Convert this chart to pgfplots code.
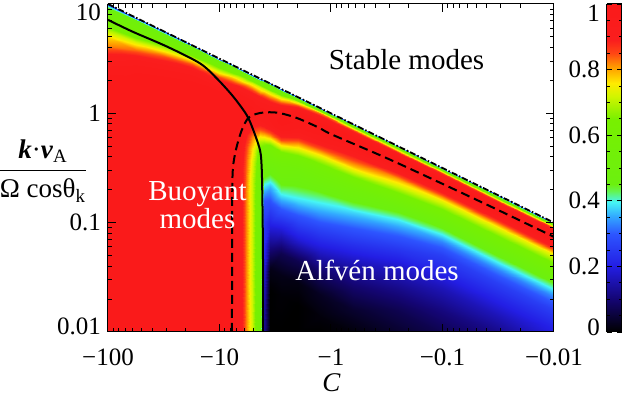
\documentclass[border=0pt]{standalone}
\usepackage{fontspec}
\setmainfont{Liberation Serif}
\usepackage{amsmath}
\usepackage{pgfplots}
\pgfplotsset{compat=1.18}

\pgfplotsset{
  colormap={ref}{
    rgb255(0cm)=(0,0,0);
    rgb255(1cm)=(20,5,115);
    rgb255(2cm)=(35,30,228);
    rgb255(3cm)=(45,85,255);
    rgb255(3.55cm)=(50,170,255);
    rgb255(3.95cm)=(70,245,245);
    rgb255(4.3cm)=(100,245,80);
    rgb255(4.5cm)=(108,240,15);
    rgb255(6.5cm)=(120,240,0);
    rgb255(7.2cm)=(210,245,0);
    rgb255(7.6cm)=(255,235,0);
    rgb255(8.1cm)=(255,150,0);
    rgb255(8.5cm)=(255,70,20);
    rgb255(8.9cm)=(250,30,30);
    rgb255(10cm)=(250,26,26)
  }
}

\begin{document}
\begin{tikzpicture}
\begin{axis}[
  at={(0,0)}, anchor=south west,
  view={0}{90},
  scale only axis, width=223pt, height=164pt,
  xmin=-2, xmax=2, ymin=-2, ymax=1,
  enlargelimits=false,
  axis on top,
  colormap name=ref,
  point meta min=0, point meta max=1,
  xtick={-2,-1,0,1,2},
  xticklabels={−100,−10,−1,−0.1,−0.01},
  ytick={-2,-1,0,1},
  yticklabels={\raisebox{3pt}[\height][\depth]{0.01},0.1,1,\raisebox{-4pt}[\height][\depth]{10}},
  minor xtick={-1.954,-1.903,-1.845,-1.778,-1.699,-1.602,-1.477,-1.301,
    -0.954,-0.903,-0.845,-0.778,-0.699,-0.602,-0.477,-0.301,
    0.046,0.097,0.155,0.222,0.301,0.398,0.523,0.699,
    1.046,1.097,1.155,1.222,1.301,1.398,1.523,1.699},
  minor ytick={-1.699,-1.523,-1.398,-1.301,-1.222,-1.155,-1.097,-1.046,
    -0.699,-0.523,-0.398,-0.301,-0.222,-0.155,-0.097,-0.046,
    0.301,0.477,0.602,0.699,0.778,0.845,0.903,0.954},
  major tick length=4pt, minor tick length=2pt,
  tick style={black, line width=0.5pt},
  axis line style={line width=0.5pt},
  tick label style={font=\fontsize{12.5}{15}\selectfont},
  xticklabel style={yshift=-5pt},
]
% one scanline per depth below the stability line, 21 columns in C each
\addplot3[surf, shader=interp, z buffer=none, mesh/rows=22, mesh/cols=21,
  point meta=explicit] table[x=X, y=v, z=c, meta=c] {
X v c
-2 1 0.25
-1.75 0.875 0.28
-1.5 0.75 0.28
-1.25 0.625 0.3
-1 0.5 0.3
-0.9 0.45 0.3
-0.82 0.41 0.3
-0.76 0.38 0.3
-0.71 0.355 0.3
-0.67 0.335 0.3
-0.635 0.318 0.3
-0.605 0.302 0.3
-0.55 0.275 0.3
-0.45 0.225 0.3
-0.3 0.15 0.3
-0.1 0.05 0.3
0.2 -0.1 0.3
0.6 -0.3 0.3
1 -0.5 0.3
1.5 -0.75 0.3
2 -1 0.3

-2 0.98 0.38
-1.75 0.855 0.45
-1.5 0.73 0.48
-1.25 0.605 0.5
-1 0.48 0.52
-0.9 0.43 0.52
-0.82 0.39 0.52
-0.76 0.36 0.52
-0.71 0.335 0.5
-0.67 0.315 0.5
-0.635 0.298 0.49
-0.605 0.282 0.49
-0.55 0.255 0.48
-0.45 0.205 0.5
-0.3 0.13 0.52
-0.1 0.03 0.58
0.2 -0.12 0.6
0.6 -0.32 0.61
1 -0.52 0.62
1.5 -0.77 0.62
2 -1.02 0.62

-2 0.95 0.5
-1.75 0.825 0.52
-1.5 0.7 0.54
-1.25 0.575 0.56
-1 0.45 0.58
-0.9 0.4 0.6
-0.82 0.36 0.62
-0.76 0.33 0.63
-0.71 0.305 0.62
-0.67 0.285 0.62
-0.635 0.268 0.62
-0.605 0.252 0.62
-0.55 0.225 0.62
-0.45 0.175 0.62
-0.3 0.1 0.72
-0.1 0 0.82
0.2 -0.15 0.85
0.6 -0.35 0.86
1 -0.55 0.86
1.5 -0.8 0.86
2 -1.05 0.86

-2 0.92 0.53
-1.75 0.795 0.55
-1.5 0.67 0.57
-1.25 0.545 0.6
-1 0.42 0.64
-0.9 0.37 0.67
-0.82 0.33 0.7
-0.76 0.3 0.72
-0.71 0.275 0.72
-0.67 0.255 0.72
-0.635 0.238 0.72
-0.605 0.222 0.72
-0.55 0.195 0.72
-0.45 0.145 0.72
-0.3 0.07 0.86
-0.1 -0.03 0.93
0.2 -0.18 0.95
0.6 -0.38 0.95
1 -0.58 0.95
1.5 -0.83 0.95
2 -1.08 0.95

-2 0.88 0.56
-1.75 0.755 0.58
-1.5 0.63 0.62
-1.25 0.505 0.72
-1 0.38 0.74
-0.9 0.33 0.78
-0.82 0.29 0.8
-0.76 0.26 0.82
-0.71 0.235 0.82
-0.67 0.215 0.81
-0.635 0.198 0.8
-0.605 0.182 0.8
-0.55 0.155 0.8
-0.45 0.105 0.83
-0.3 0.03 0.95
-0.1 -0.07 0.98
0.2 -0.22 1
0.6 -0.42 1
1 -0.62 1
1.5 -0.87 1
2 -1.12 1

-2 0.83 0.6
-1.75 0.705 0.62
-1.5 0.58 0.74
-1.25 0.455 0.84
-1 0.33 0.85
-0.9 0.28 0.88
-0.82 0.24 0.9
-0.76 0.21 0.9
-0.71 0.185 0.9
-0.67 0.165 0.9
-0.635 0.148 0.9
-0.605 0.132 0.9
-0.55 0.105 0.9
-0.45 0.055 0.93
-0.3 -0.02 1
-0.1 -0.12 1
0.2 -0.27 0.99
0.6 -0.47 0.99
1 -0.67 0.98
1.5 -0.92 0.98
2 -1.17 0.98

-2 0.77 0.68
-1.75 0.645 0.74
-1.5 0.52 0.84
-1.25 0.395 0.93
-1 0.27 0.94
-0.9 0.22 0.96
-0.82 0.18 0.96
-0.76 0.15 0.96
-0.71 0.125 0.96
-0.67 0.105 0.95
-0.635 0.088 0.95
-0.605 0.072 0.95
-0.55 0.045 0.95
-0.45 -0.005 0.98
-0.3 -0.08 0.98
-0.1 -0.18 0.97
0.2 -0.33 0.95
0.6 -0.53 0.92
1 -0.73 0.88
1.5 -0.98 0.88
2 -1.23 0.88

-2 0.7 0.77
-1.75 0.575 0.83
-1.5 0.45 0.93
-1.25 0.325 0.98
-1 0.2 0.99
-0.9 0.15 1
-0.82 0.11 1
-0.76 0.08 0.99
-0.71 0.055 0.99
-0.67 0.035 0.98
-0.635 0.018 0.97
-0.605 0.002 0.97
-0.55 -0.025 0.97
-0.45 -0.075 1
-0.3 -0.15 0.95
-0.1 -0.25 0.93
0.2 -0.4 0.88
0.6 -0.6 0.8
1 -0.8 0.74
1.5 -1.05 0.74
2 -1.3 0.74

-2 0.62 0.82
-1.75 0.495 0.93
-1.5 0.37 0.98
-1.25 0.245 1
-1 0.12 1
-0.9 0.07 1
-0.82 0.03 1
-0.76 0 1
-0.71 -0.025 0.97
-0.67 -0.045 0.95
-0.635 -0.062 0.94
-0.605 -0.078 0.94
-0.55 -0.105 0.95
-0.45 -0.155 0.97
-0.3 -0.23 0.88
-0.1 -0.33 0.84
0.2 -0.48 0.79
0.6 -0.68 0.7
1 -0.88 0.64
1.5 -1.13 0.64
2 -1.38 0.64

-2 0.53 0.9
-1.75 0.405 0.98
-1.5 0.28 1
-1.25 0.155 1
-1 0.03 1
-0.9 -0.02 1
-0.82 -0.06 0.99
-0.76 -0.09 0.95
-0.71 -0.115 0.9
-0.67 -0.135 0.87
-0.635 -0.152 0.84
-0.605 -0.168 0.83
-0.55 -0.195 0.82
-0.45 -0.245 0.85
-0.3 -0.32 0.75
-0.1 -0.42 0.7
0.2 -0.57 0.66
0.6 -0.77 0.59
1 -0.97 0.54
1.5 -1.22 0.54
2 -1.47 0.54

-2 0.43 0.96
-1.75 0.305 1
-1.5 0.18 1
-1.25 0.055 1
-1 -0.07 1
-0.9 -0.12 1
-0.82 -0.16 0.98
-0.76 -0.19 0.9
-0.71 -0.215 0.82
-0.67 -0.235 0.77
-0.635 -0.252 0.7
-0.605 -0.268 0.67
-0.55 -0.295 0.63
-0.45 -0.345 0.66
-0.3 -0.42 0.6
-0.1 -0.52 0.58
0.2 -0.67 0.55
0.6 -0.87 0.48
1 -1.07 0.43
1.5 -1.32 0.43
2 -1.57 0.43

-2 0.32 1
-1.75 0.195 1
-1.5 0.07 1
-1.25 -0.055 1
-1 -0.18 1
-0.9 -0.23 1
-0.82 -0.27 0.96
-0.76 -0.3 0.86
-0.71 -0.325 0.77
-0.67 -0.345 0.69
-0.635 -0.362 0.6
-0.605 -0.378 0.58
-0.55 -0.405 0.56
-0.45 -0.455 0.55
-0.3 -0.53 0.52
-0.1 -0.63 0.51
0.2 -0.78 0.47
0.6 -0.98 0.39
1 -1.18 0.33
1.5 -1.43 0.33
2 -1.68 0.33

-2 0.2 1
-1.75 0.075 1
-1.5 -0.05 1
-1.25 -0.175 1
-1 -0.3 1
-0.9 -0.35 1
-0.82 -0.39 0.94
-0.76 -0.42 0.84
-0.71 -0.445 0.74
-0.67 -0.465 0.66
-0.635 -0.482 0.57
-0.605 -0.498 0.52
-0.55 -0.525 0.47
-0.45 -0.575 0.5
-0.3 -0.65 0.46
-0.1 -0.75 0.43
0.2 -0.9 0.38
0.6 -1.1 0.31
1 -1.3 0.26
1.5 -1.55 0.26
2 -1.8 0.26

-2 0.05 1
-1.75 -0.075 1
-1.5 -0.2 1
-1.25 -0.325 1
-1 -0.45 1
-0.9 -0.5 0.99
-0.82 -0.54 0.93
-0.76 -0.57 0.83
-0.71 -0.595 0.72
-0.67 -0.615 0.64
-0.635 -0.632 0.56
-0.605 -0.648 0.4
-0.55 -0.675 0.36
-0.45 -0.725 0.4
-0.3 -0.8 0.38
-0.1 -0.9 0.35
0.2 -1.05 0.3
0.6 -1.25 0.24
1 -1.45 0.21
1.5 -1.7 0.21
2 -1.95 0.21

-2 -0.1 1
-1.75 -0.225 1
-1.5 -0.35 1
-1.25 -0.475 1
-1 -0.6 1
-0.9 -0.65 0.99
-0.82 -0.69 0.93
-0.76 -0.72 0.82
-0.71 -0.745 0.72
-0.67 -0.765 0.63
-0.635 -0.782 0.56
-0.605 -0.798 0.3
-0.55 -0.825 0.28
-0.45 -0.875 0.3
-0.3 -0.95 0.29
-0.1 -1.05 0.27
0.2 -1.2 0.23
0.6 -1.4 0.18
1 -1.6 0.16
1.5 -1.85 0.16
2 -2 0.2

-2 -0.3 1
-1.75 -0.425 1
-1.5 -0.55 1
-1.25 -0.675 1
-1 -0.8 1
-0.9 -0.85 0.99
-0.82 -0.89 0.93
-0.76 -0.92 0.82
-0.71 -0.945 0.72
-0.67 -0.965 0.63
-0.635 -0.982 0.56
-0.605 -0.998 0.25
-0.55 -1.025 0.2
-0.45 -1.075 0.18
-0.3 -1.15 0.19
-0.1 -1.25 0.18
0.2 -1.4 0.15
0.6 -1.6 0.12
1 -1.8 0.11
1.5 -2 0.12
2 -2 0.2

-2 -0.5 1
-1.75 -0.625 1
-1.5 -0.75 1
-1.25 -0.875 1
-1 -1 1
-0.9 -1.05 0.99
-0.82 -1.09 0.93
-0.76 -1.12 0.82
-0.71 -1.145 0.72
-0.67 -1.165 0.63
-0.635 -1.182 0.56
-0.605 -1.198 0.23
-0.55 -1.225 0.11
-0.45 -1.275 0.07
-0.3 -1.35 0.07
-0.1 -1.45 0.09
0.2 -1.6 0.09
0.6 -1.8 0.07
1 -2 0.07
1.5 -2 0.12
2 -2 0.2

-2 -0.7 1
-1.75 -0.825 1
-1.5 -0.95 1
-1.25 -1.075 1
-1 -1.2 1
-0.9 -1.25 0.99
-0.82 -1.29 0.93
-0.76 -1.32 0.82
-0.71 -1.345 0.72
-0.67 -1.365 0.63
-0.635 -1.382 0.56
-0.605 -1.398 0.2
-0.55 -1.425 0.02
-0.45 -1.475 0.02
-0.3 -1.55 0.015
-0.1 -1.65 0.03
0.2 -1.8 0.04
0.6 -2 0.04
1 -2 0.07
1.5 -2 0.12
2 -2 0.2

-2 -0.9 1
-1.75 -1.025 1
-1.5 -1.15 1
-1.25 -1.275 1
-1 -1.4 1
-0.9 -1.45 0.99
-0.82 -1.49 0.93
-0.76 -1.52 0.82
-0.71 -1.545 0.72
-0.67 -1.565 0.63
-0.635 -1.582 0.56
-0.605 -1.598 0.17
-0.55 -1.625 0
-0.45 -1.675 0.005
-0.3 -1.75 0
-0.1 -1.85 0.01
0.2 -2 0.01
0.6 -2 0.04
1 -2 0.07
1.5 -2 0.12
2 -2 0.2

-2 -1.2 1
-1.75 -1.325 1
-1.5 -1.45 1
-1.25 -1.575 1
-1 -1.7 1
-0.9 -1.75 0.99
-0.82 -1.79 0.93
-0.76 -1.82 0.82
-0.71 -1.845 0.72
-0.67 -1.865 0.63
-0.635 -1.882 0.56
-0.605 -1.898 0.14
-0.55 -1.925 0
-0.45 -1.975 0
-0.3 -2 0
-0.1 -2 0
0.2 -2 0.01
0.6 -2 0.04
1 -2 0.07
1.5 -2 0.12
2 -2 0.2

-2 -1.5 1
-1.75 -1.625 1
-1.5 -1.75 1
-1.25 -1.875 1
-1 -2 1
-0.9 -2 0.99
-0.82 -2 0.93
-0.76 -2 0.82
-0.71 -2 0.72
-0.67 -2 0.63
-0.635 -2 0.56
-0.605 -2 0.13
-0.55 -2 0
-0.45 -2 0
-0.3 -2 0
-0.1 -2 0
0.2 -2 0.01
0.6 -2 0.04
1 -2 0.07
1.5 -2 0.12
2 -2 0.2

-2 -2 1
-1.75 -2 1
-1.5 -2 1
-1.25 -2 1
-1 -2 1
-0.9 -2 0.99
-0.82 -2 0.93
-0.76 -2 0.82
-0.71 -2 0.72
-0.67 -2 0.63
-0.635 -2 0.56
-0.605 -2 0.13
-0.55 -2 0
-0.45 -2 0
-0.3 -2 0
-0.1 -2 0
0.2 -2 0.01
0.6 -2 0.04
1 -2 0.07
1.5 -2 0.12
2 -2 0.2
};
% stability boundary
\addplot3[black, line width=0.9pt, dash pattern=on 3pt off 1pt on 0.8pt off 1pt]
  coordinates {(-2,1,1) (2,-1,1)};
% buoyant / Alfven separatrix
\addplot3[black, line width=1pt, smooth] coordinates {
  (-2,0.855,1) (-1.78,0.747,1) (-1.47,0.61,1) (-1.175,0.457,1) (-1.025,0.32,1)
  (-0.876,0.152,1) (-0.756,-0.016,1) (-0.697,-0.153,1) (-0.637,-0.336,1)
  (-0.622,-0.488,1) (-0.615,-0.8,1) (-0.61,-1.3,1) (-0.608,-2,1)};
% dashed contour
\addplot3[black, line width=1pt, dash pattern=on 4.5pt off 2.5pt, smooth] coordinates {
  (-0.888,-2,1) (-0.887,-1.0,1) (-0.884,-0.6,1) (-0.874,-0.45,1) (-0.846,-0.306,1)
  (-0.8,-0.153,1) (-0.74,-0.04,1) (-0.65,0.0,1) (-0.55,0.01,1) (-0.45,0.0,1)
  (-0.3,-0.045,1) (-0.1,-0.135,1) (0,-0.19,1) (0.5,-0.41,1) (1,-0.645,1)
  (1.5,-0.885,1) (2,-1.13,1)};
\node[anchor=base, font=\fontsize{14.5}{14}\selectfont] at (axis cs:0.677,0.4026,1) {Stable modes};
\node[anchor=base, text=white, font=\fontsize{14.5}{14}\selectfont] at (axis cs:-1.197,-0.793,1) {Buoyant};
\node[anchor=base, text=white, font=\fontsize{14.5}{14}\selectfont] at (axis cs:-1.197,-1.049,1) {modes};
\node[anchor=base, text=white, font=\fontsize{14.5}{14}\selectfont] at (axis cs:0.4126,-1.525,1) {Alfvén modes};
\end{axis}

% colour scale
\begin{axis}[
  at={(249.5pt,0)}, anchor=south west,
  view={0}{90},
  scale only axis, width=7.5pt, height=164pt,
  xmin=0, xmax=1, ymin=0, ymax=1,
  enlargelimits=false,
  axis on top,
  colormap name=ref,
  point meta min=0, point meta max=1,
  xtick=\empty,
  ytick={0,0.2,0.4,0.6,0.8,1},
  yticklabels={\raisebox{2.5pt}[\height][\depth]{0},0.2,0.4,0.6,0.8,\raisebox{-4.5pt}[\height][\depth]{1}},
  minor ytick={0.05,0.1,0.15,0.25,0.3,0.35,0.45,0.5,0.55,0.65,0.7,0.75,0.85,0.9,0.95},
  major tick length=2.5pt, minor tick length=1.5pt,
  tick style={black, line width=0.4pt},
  axis line style={line width=0.5pt},
  tick label style={font=\fontsize{12.5}{15}\selectfont},
]
\addplot3[surf, shader=interp, z buffer=none, mesh/rows=15, mesh/cols=2, point meta=explicit]
  table[x=x, y=y, z=c, meta=c] {
x y c
0 0 0
1 0 0

0 0.1 0.1
1 0.1 0.1

0 0.2 0.2
1 0.2 0.2

0 0.3 0.3
1 0.3 0.3

0 0.355 0.355
1 0.355 0.355

0 0.395 0.395
1 0.395 0.395

0 0.43 0.43
1 0.43 0.43

0 0.45 0.45
1 0.45 0.45

0 0.65 0.65
1 0.65 0.65

0 0.72 0.72
1 0.72 0.72

0 0.76 0.76
1 0.76 0.76

0 0.81 0.81
1 0.81 0.81

0 0.85 0.85
1 0.85 0.85

0 0.89 0.89
1 0.89 0.89

0 1 1
1 1 1
};
\end{axis}

\node at (-32.5pt,80.5pt) {\fontsize{13.5}{16}\selectfont$\dfrac{\text{\textbf{\textit{k}}·\textbf{\textit{v}}\textsubscript{A}}}{\text{Ω cosθ\textsubscript{k}}}$};
\node at (111.8pt,-25.5pt) {\fontsize{13.5}{16}\selectfont\textit{C}};
\pgfresetboundingbox
\useasboundingbox (-54pt,-31.5pt) rectangle (257.5pt,166pt);
\end{tikzpicture}
\end{document}
